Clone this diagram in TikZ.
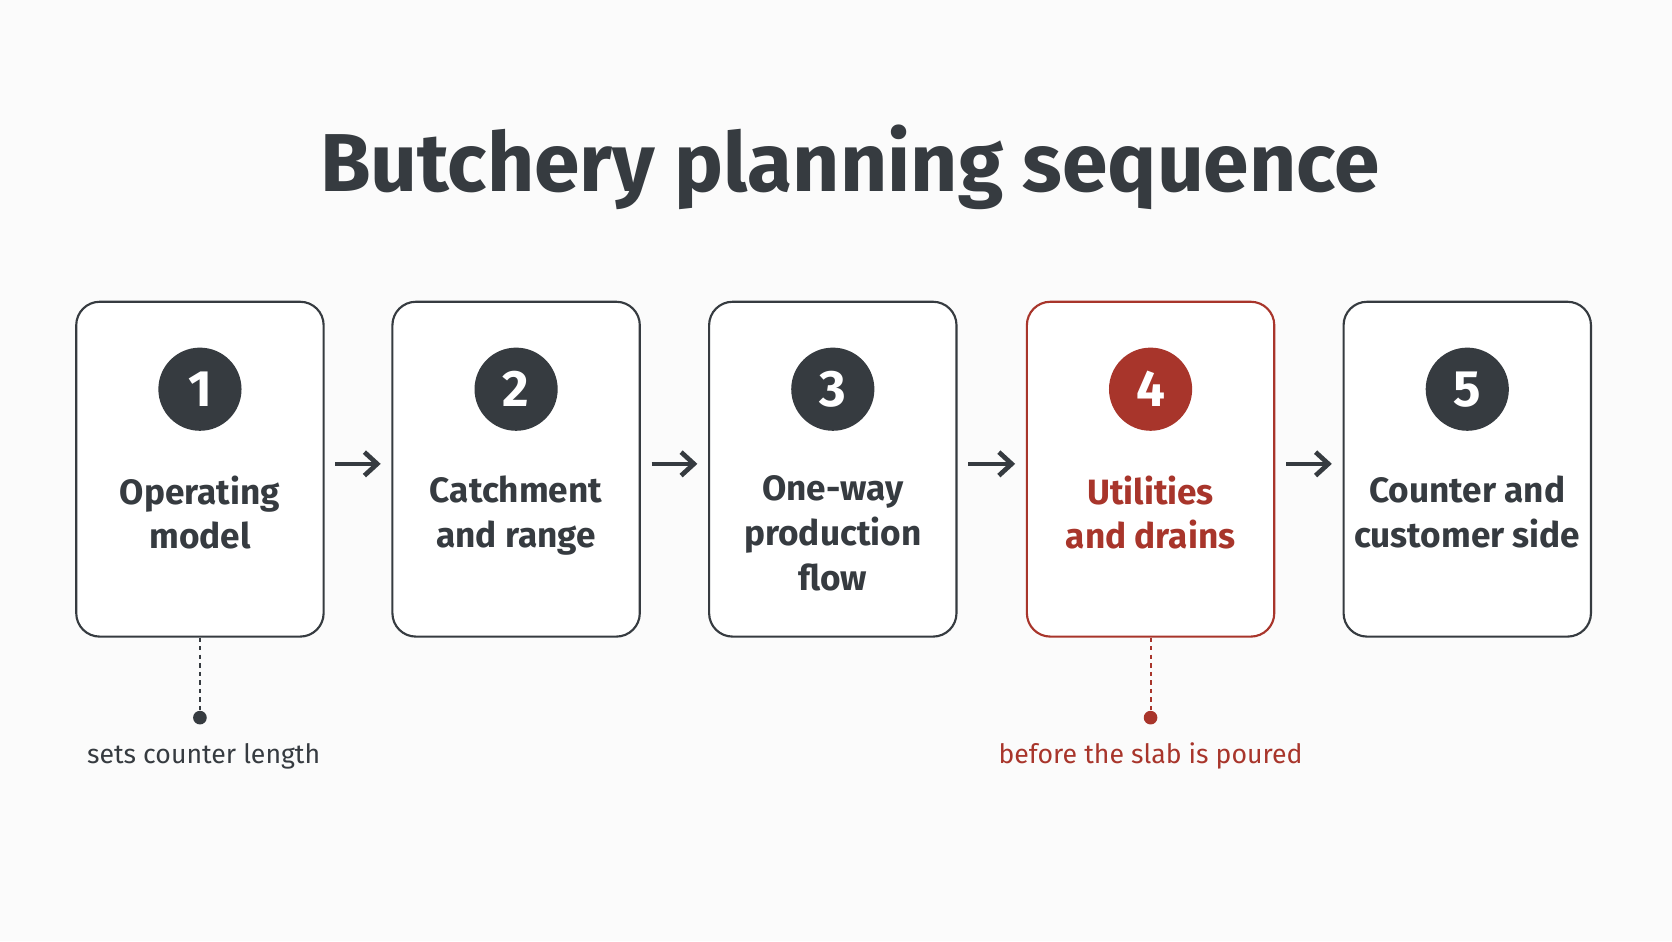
\documentclass[tikz,border=0pt]{standalone}
\usepackage{fontspec}
\setmainfont{Fira Sans}
\definecolor{dk}{HTML}{363B40}
\definecolor{rd}{HTML}{A8352B}
\definecolor{bg}{HTML}{FBFBFB}
\begin{document}
\begin{tikzpicture}[x=0.5pt,y=-0.5pt,
 box/.style={draw=#1,line width=1pt,rounded corners=11pt,minimum width=116pt,minimum height=157pt,fill=white},
 num/.style={circle,fill=#1,minimum size=39pt,inner sep=0pt,text=white,font=\fontsize{24}{24}\selectfont\bfseries},
 lab/.style={text=#1,align=center,font=\fontsize{16.5}{21}\selectfont\bfseries},
 arr/.style={draw=dk,line width=2.2pt,-{Straight Barb[length=6pt,width=11pt]}},
 note/.style={text=#1,font=\fontsize{12.5}{14}\selectfont},
 dots/.style={draw=#1,line width=1pt,dash pattern=on 2pt off 2pt}]
\usetikzlibrary{arrows.meta}
\fill[bg] (0,0) rectangle (1568,882.5);
\node[text=dk,font=\fontsize{38.5}{40}\selectfont\bfseries] (title) at (797,157) {Butchery planning sequence};
\foreach \i/\x/\c/\t in {1/187.5/dk/{Operating\\model},2/484/dk/{Catchment\\and range},3/781/dk/{One-way\\production\\flow},4/1079/rd/{Utilities\\and drains},5/1376/dk/{Counter and\\customer side}}{
 \node[box=\c] (b\i) at (\x,440) {};
 \node[num=\c] (n\i) at (\x,365) {\i};
 \node[lab=\c,anchor=north] (t\i) at (\x,439) {\t};
}
\foreach \a/\b in {1/2,2/3,3/4,4/5}{\draw[arr] ([xshift=5pt,yshift=2.5pt]b\a.east) -- ([xshift=-5pt,yshift=2.5pt]b\b.west);}
\coordinate (d1) at (187.5,673); \coordinate (d4) at (1079,673);
\draw[dots=dk] (b1.south) -- (d1); \fill[dk] (d1) circle (3.2pt);
\draw[dots=rd] (b4.south) -- (d4); \fill[rd] (d4) circle (3.2pt);
\node[note=dk] (l1) at (191,709) {sets counter length};
\node[note=rd] (l4) at (1079,709) {before the slab is poured};
\end{tikzpicture}
\end{document}
